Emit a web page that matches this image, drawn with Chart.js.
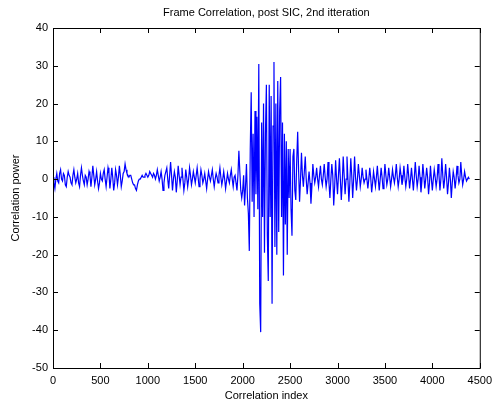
<!DOCTYPE html>
<html>
<head>
<meta charset="utf-8">
<script src="https://cdn.jsdelivr.net/npm/chart.js@4"></script>
<style>
  body { margin: 0; background: #fff; }
  #wrap { width: 498px; height: 404px; }
</style>
</head>
<body>
<div id="wrap"><canvas id="corr" width="498" height="404"></canvas></div>
<script>
// Frame correlation, post SIC, 2nd itteration

const STEP = 10;           // spacing of the samples along the index axis
const xTicks = [0, 500, 1000, 1500, 2000, 2500, 3000, 3500, 4000, 4500];
const yTicks = [-50, -40, -30, -20, -10, 0, 10, 20, 30, 40];

// 0 .. 1990
const powerQuiet1 = [
  0.5, -1, -2.5, 0, 1.5, -0.5, -1, 1.5, 2.5, 0, -0.5, 1.5, 1, -1.5, -2, 0.5, 2, 1, 0.5, -1,
  -1.5, 1, 2.5, 0.5, -1, 0, 1.5, -1, -2, 1, 3, 1, -0.5, -1.5, 1, 0.5, -1.5, 0, 2, 1,
  -2, 0.5, 3.5, 1, -1.5, 0, 2, -0.5, -2.5, -1, 1.5, 0, -0.5, 1.5, 2.5, 0, -2, 0.5, 3, 1.5,
  -2.5, 0, 3, 0.5, -3, -1, 2.5, 1, -1.5, 0.5, 3.5, 1, -2, -0.5, 1.5, 2, 4, 2.5, 1.5, 1,
  0.5, 1, 1, 0, -1, -1.5, -1.5, -2.5, -3, -1.5, -0.5, 0, 0, 0.5, 1, 0.5, 0.5, 1, 1.5, 1,
  0.5, 1, 2, 1.5, 1, 0.5, 1.5, 1, 0, 1, 2.5, 1, -0.5, 0.5, 2, 0, -3, -1, 1, 2,
  3, 0, -2.5, 1, 4.5, 1, -3, 0, 2, 0.5, -3.5, -0.5, 3.5, 1, -1.5, 0.5, 3, 0, -3, -1,
  2.5, 0.5, -2, 0, 3, 1, -1.5, 0, 2, 0.5, -1, 1, 3, 0.5, -2, 0, 2.5, 1, -1, 0,
  1.5, -0.5, -2.5, 0, 2, 0.5, -0.5, 1, 2.5, 0, -2, 0, 1.5, 0.5, -1, 1, 3, 0.5, -1.5, 0,
  2, 0, -2.5, -0.5, 1.5, 0, -1, 1, 2.5, 0, -2, 0.5, 1, -1, -3, 1, 7.5, 2, -3, -5
];

// 2000 .. 2590 : the burst
const powerBurst = [
  -3, 1, -7, -2, 4, -5, -9, -19, 8, 23,
  -6, 12, -10, 18, -4, 16.5, -8, 30.5, -33, -40.5,
  15, -10, 20, -19.5, 12, 25, -15, -27, 25, -10,
  22, -33, 14, 31, -18, 20, -20, 26, -14, 18,
  27, -10, 15, -25.5, 12, -12, 10, -20, 8, -5,
  8, -8, -15, 6, 8, -3, -5.5, 5, 12.5, 2
];

// 2600 .. 4390
const powerQuiet2 = [
  -6, 0, 7, 1, -2, 2, 6, 0, -4, -1, 2, -1, -6.5, -2, 4, 1, -1, 0.5, 3, 0,
  -2, 1, 3.5, 0, -1.5, 1, 4, 0.5, -2, 0, 4.5, -1, -5, 0, 4, 1, -7, -2, 5, 0,
  -4, 1, 5.5, 0, -5.5, -1, 6, 1, -4, 0, 6, 0, -6, -1, 5.5, 1, -5, 0, 6, 0.5,
  -3, 0, 4, 1, -2, 0, 3, 0.5, -1, 0, 2.5, 0, -2.5, 0, 3, 0.5, -3.5, -1, 2, 0,
  -2, 0.5, 3.5, 0, -3, 0, 3, 0.5, -2.5, 0, 4, 1, -1.5, 0, 3, 0.5, -2, 0, 2.5, 0.5,
  -1, 1, 4, 0.5, -2, 0, 3, 1, -1.5, 0, 3.5, 0.5, -2, 0, 4, 1, -2.5, 0, 3, 0,
  -3, 0.5, 4.5, 1, -2, 0, 3.5, 0.5, -3.5, -0.5, 4, 1, -2.5, 0, 3, 0.5, -4, -1, 3.5, 0,
  -3, 0, 2.5, 0.5, -2, 0, 4, 1, -3, 0, 5.5, 1, -2.5, 0, 4, 0.5, -4, -1, 3, 0,
  -5, -1, 2, 0.5, -2.5, 0, 3.5, 1, -1, 0, 4.5, 1, -1.5, 0, 2, 0.5, -0.5, 0, 0.5, 0
];

const corrPower = [...powerQuiet1, ...powerBurst, ...powerQuiet2];
const corrIndex = corrPower.map((_, i) => i * STEP);

const FONT = '"Liberation Sans", Arial, Helvetica, sans-serif';

// matlab look: box round the axes, ticks pointing in, title + labels
const matlabAxes = {
  id: 'matlabAxes',
  afterDraw(chart) {
    const { ctx, chartArea: a, scales } = chart;
    ctx.save();
    ctx.strokeStyle = '#000';
    ctx.lineWidth = 1;
    ctx.strokeRect(a.left + 0.5, a.top + 0.5, a.right - a.left, a.bottom - a.top);

    ctx.beginPath();
    const tl = 5;
    xTicks.forEach(v => {
      const x = Math.round(scales.x.getPixelForValue(v)) + 0.5;
      ctx.moveTo(x, a.bottom); ctx.lineTo(x, a.bottom - tl);
      ctx.moveTo(x, a.top);    ctx.lineTo(x, a.top + tl);
    });
    yTicks.forEach(v => {
      const y = Math.round(scales.y.getPixelForValue(v)) + 0.5;
      ctx.moveTo(a.left, y);  ctx.lineTo(a.left + tl, y);
      ctx.moveTo(a.right, y); ctx.lineTo(a.right - tl, y);
    });
    ctx.stroke();

    ctx.fillStyle = '#000';
    ctx.font = '11px ' + FONT;
    ctx.textAlign = 'center';
    ctx.textBaseline = 'middle';
    ctx.fillText('Frame Correlation, post SIC, 2nd itteration', (a.left + a.right) / 2, 13);
    ctx.fillText('Correlation index', (a.left + a.right) / 2, 396);
    ctx.translate(16, (a.top + a.bottom) / 2);
    ctx.rotate(-Math.PI / 2);
    ctx.fillText('Correlation power', 0, 0);
    ctx.restore();
  }
};

new Chart(document.getElementById('corr'), {
  type: 'line',
  data: {
    datasets: [{
      data: corrIndex.map((x, i) => ({ x, y: corrPower[i] })),
      borderColor: '#0000ff',
      borderWidth: 1.2,
      pointRadius: 0,
      tension: 0,
      fill: false,
    }],
  },
  options: {
    responsive: false,
    animation: false,
    layout: { padding: { top: 28, right: 13, left: 0, bottom: 0 } },
    plugins: { legend: { display: false }, tooltip: { enabled: false } },
    scales: {
      x: {
        type: 'linear', min: 0, max: 4500,
        afterBuildTicks: s => { s.ticks = xTicks.map(value => ({ value })); },
        afterFit: s => { s.height = 36; },
        ticks: { color: '#000', font: { size: 11, family: FONT }, padding: 6, maxRotation: 0,
                 callback: v => String(v) },
        grid: { display: false, drawTicks: false },
        border: { display: false },
      },
      y: {
        min: -50, max: 40,
        afterBuildTicks: s => { s.ticks = yTicks.map(value => ({ value })); },
        afterFit: s => { s.width = 53; },
        ticks: { color: '#000', font: { size: 11, family: FONT }, padding: 5,
                 callback: v => String(v) },
        grid: { display: false, drawTicks: false },
        border: { display: false },
      },
    },
  },
  plugins: [matlabAxes],
});
</script>
</body>
</html>
